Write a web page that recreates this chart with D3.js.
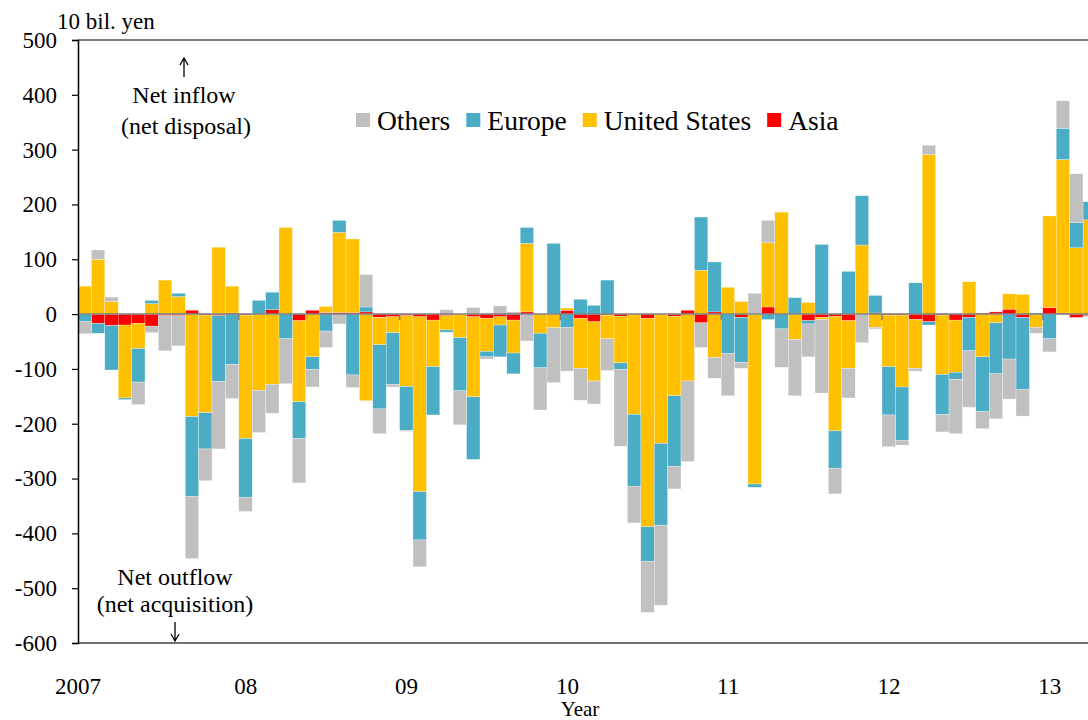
<!DOCTYPE html>
<html>
<head>
<meta charset="utf-8">
<script src="https://cdn.jsdelivr.net/npm/d3@7"></script>
<style>
  body { margin: 0; background: #fff; }
  svg { display: block; }
  svg text { font-family: "Liberation Serif", "Times New Roman", "DejaVu Serif", serif; }
</style>
</head>
<body>
<svg id="chart" width="1088" height="720"></svg>
<script>
// monthly, Jan 2007 .. Apr 2013 (last bar cut off at the right edge)
const years = ["2007", "08", "09", "10", "11", "12", "13"];
const asia = [
  0, -17, -21, -20, -17, -22, -3, -3, 7, -2, -3, 2,
  -2, -1, 8, 0, -12, 7, 3, 3, 3, 4, -6, -5,
  -3, -5, -11, -3, 0, -5, -8, -5, -11, 4, 0, 0,
  7, -8, -14, -2, -4, 0, -8, 0, -4, 7, -16, 4,
  0, -6, 0, 13, 0, 0, -12, -6, -4, -12, 0, 2,
  -2, -2, -10, -14, -2, -11, -6, 2, 4, 9, -6, 0,
  12, 2, -6, -3
];
const unitedStates = [
  51, 100, 23, -133, -46, 19, 62, 32, -187, -178, 122, 49,
  -225, -138, -128, 158, -148, -78, 11, 146, 134, -158, -50, -29,
  -129, -319, -85, -26, -43, -146, -60, -15, -60, 125, -35, -25,
  4, -91, -108, -43, -85, -183, -380, -236, -145, -122, 80, -79,
  49, 23, -310, 117, 186, -46, 21, -4, -209, -87, 126, -24,
  -94, -131, -89, 291, -108, -95, 59, -78, -16, 28, 36, -24,
  167, 280, 121, 172
];
const europe = [
  -14, -18, -81, -3, -61, 6, 0, 6, -146, -66, -120, -92,
  -107, 25, 32, -45, -67, -23, -31, 22, -111, 9, -117, -94,
  -80, -88, -88, -4, -97, -114, -10, -58, -38, 29, -63, 129,
  -24, 27, 16, 62, -12, -131, -63, -149, -129, 0, 97, 91,
  -72, -82, -6, -10, -27, 30, -6, 127, -68, 78, 90, 32,
  -88, -97, 57, -6, -73, -13, -61, -100, -93, -82, -131, 2,
  -45, 57, 46, 33
];
const others = [
  -22, 17, 8, 0, -41, -12, -64, -55, -113, -58, -123, -62,
  -26, -77, -53, -82, -81, -32, -30, -18, -23, 59, -45, -5,
  -2, -49, 0, 8, -62, 12, -4, 15, 4, -49, -77, -100,
  -80, -58, -42, -58, -140, -67, -93, -146, -41, -147, -45, -38,
  -77, -11, 38, 41, -70, -103, -60, -134, -47, -54, -52, -3,
  -58, -9, -5, 17, -32, -99, -103, -31, -82, -73, -49, -11,
  -24, 50, 89, 0
];
const yTicks = [-600, -500, -400, -300, -200, -100, 0, 100, 200, 300, 400, 500];

const series = [
  { key: "asia", name: "Asia", color: "#FF0000", values: asia },
  { key: "us", name: "United States", color: "#FFC000", values: unitedStates },
  { key: "europe", name: "Europe", color: "#4BACC6", values: europe },
  { key: "others", name: "Others", color: "#C0C0C0", values: others }
];

const rows = asia.map((_, i) => {
  const r = { i };
  series.forEach(s => r[s.key] = s.values[i]);
  return r;
});

const serif = "Liberation Serif";
const svg = d3.select("#chart");
const plotLeft = 78, barW = 13.4, plotTop = 40, plotBottom = 643;

const x = d3.scaleBand()
  .domain(d3.range(rows.length))
  .range([plotLeft, plotLeft + barW * rows.length])
  .padding(0);
const y = d3.scaleLinear().domain([-600, 500]).range([plotBottom, plotTop]);

const stacked = d3.stack()
  .keys(series.map(s => s.key))
  .offset(d3.stackOffsetDiverging)(rows);

// frame lines
svg.append("line")
  .attr("x1", plotLeft).attr("x2", 1088).attr("y1", y(500)).attr("y2", y(500))
  .attr("stroke", "#000").attr("stroke-width", 1);
svg.append("line")
  .attr("x1", plotLeft).attr("x2", 1088).attr("y1", y(-600)).attr("y2", y(-600))
  .attr("stroke", "#707070").attr("stroke-width", 2);

// bars
svg.append("g").selectAll("g")
  .data(stacked)
  .join("g")
    .attr("fill", (d, k) => series[k].color)
  .selectAll("rect")
  .data(d => d)
  .join("rect")
    .attr("x", d => x(d.data.i))
    .attr("width", x.bandwidth())
    .attr("y", d => y(Math.max(d[0], d[1])))
    .attr("height", d => Math.abs(y(d[0]) - y(d[1])))
    .attr("stroke", "#fff")
    .attr("stroke-width", 0.4)
    .attr("stroke-opacity", 0.7);

// zero line with year ticks
svg.append("line")
  .attr("x1", plotLeft).attr("x2", 1088).attr("y1", y(0)).attr("y2", y(0))
  .attr("stroke", "#808080").attr("stroke-width", 1.5);
svg.append("g").selectAll("line")
  .data(years.slice(1).map((_, k) => (k + 1) * 12))
  .join("line")
    .attr("x1", d => x(d)).attr("x2", d => x(d))
    .attr("y1", y(0)).attr("y2", y(0) + 6)
    .attr("stroke", "#808080").attr("stroke-width", 1.5);

// y axis
const yAxis = svg.append("g")
  .attr("transform", `translate(${plotLeft},0)`)
  .call(d3.axisLeft(y).tickValues(yTicks).tickSize(6).tickPadding(15)
    .tickFormat(d => String(d)));
yAxis.attr("font-family", serif).attr("font-size", 23);
yAxis.select(".domain").attr("stroke", "#000").attr("stroke-width", 1.5);
yAxis.selectAll(".tick line").attr("stroke", "#000").attr("stroke-width", 1.2);
yAxis.selectAll("text").attr("fill", "#000");

// year labels
svg.append("g").selectAll("text")
  .data(years)
  .join("text")
    .attr("x", (d, k) => k === 0 ? x(0) : x(k * 12) + 7)
    .attr("y", 694)
    .attr("text-anchor", "middle")
    .attr("font-size", 23)
    .text(d => d);

svg.append("text").attr("x", 580).attr("y", 716)
  .attr("text-anchor", "middle").attr("font-size", 21).text("Year");
svg.append("text").attr("x", 57).attr("y", 29)
  .attr("font-size", 23).text("10 bil. yen");

// annotations
const note = (tx, ty, t) => svg.append("text")
  .attr("x", tx).attr("y", ty).attr("text-anchor", "middle")
  .attr("font-size", 24).text(t);
note(184, 103, "Net inflow");
note(186, 134, "(net disposal)");
note(175, 585, "Net outflow");
note(175, 612, "(net acquisition)");

const arrow = (ax, y0, y1) => {
  const dir = y1 < y0 ? 1 : -1;
  svg.append("path")
    .attr("d", `M${ax},${y0}V${y1}M${ax - 4},${y1 + dir * 7}L${ax},${y1}L${ax + 4},${y1 + dir * 7}`)
    .attr("fill", "none").attr("stroke", "#000").attr("stroke-width", 1.3);
};
arrow(184, 77, 58);
arrow(175, 622, 641);

// legend
const legend = svg.append("g");
let lx = 356;
series.slice().reverse().forEach(s => {
  legend.append("rect")
    .attr("x", lx).attr("y", 113).attr("width", 14).attr("height", 14)
    .attr("fill", s.color);
  const t = legend.append("text")
    .attr("x", lx + 21).attr("y", 129.5)
    .attr("font-size", 27.5).attr("font-family", serif).text(s.name);
  lx += 21 + t.node().getComputedTextLength() + 16;
});

svg.selectAll("text").attr("font-family", serif);
</script>
</body>
</html>
